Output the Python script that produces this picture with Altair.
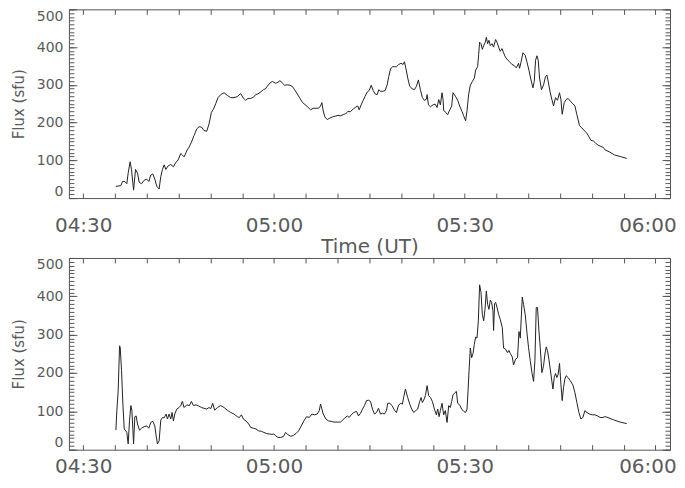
import altair as alt
import pandas as pd

# ---- data (minutes after 04:30 UT, flux in sfu) ----
top_minutes = [5.14, 5.92, 6.18, 6.55, 6.86, 7.07, 7.38, 7.6, 7.92, 8.23, 8.54, 8.8, 9.17, 9.58, 10.0, 10.32,
               10.63, 10.95, 11.26, 11.58, 11.94, 12.2, 12.47, 12.73, 12.99, 13.35, 13.77, 14.19, 14.56, 14.93,
               15.34, 15.6, 15.87, 16.29, 16.65, 17.02, 17.44, 17.86, 18.22, 18.6, 19.0, 19.43, 19.79, 20.16,
               20.48, 20.84, 21.2, 21.62, 22.15, 22.67, 23.2, 23.72, 24.25, 24.77, 25.13, 25.55, 25.92, 26.34,
               26.76, 27.12, 27.49, 27.91, 28.33, 28.69, 28.96, 29.38, 29.74, 30.27, 30.63, 30.94, 31.32, 31.68,
               32.1, 32.51, 32.89, 33.25, 33.67, 34.09, 34.51, 34.93, 35.34, 35.76, 36.18, 36.6, 37.02, 37.33,
               37.54, 37.75, 38.01, 38.38, 38.8, 39.22, 39.64, 40.05, 40.47, 40.9, 41.31, 41.62, 42.04, 42.47,
               42.88, 43.19, 43.41, 43.72, 44.04, 44.35, 44.67, 44.98, 45.3, 45.61, 45.92, 46.24, 46.49, 46.76,
               47.18, 47.49, 47.81, 48.06, 48.33, 48.64, 48.96, 49.27, 49.63, 50.0, 50.32, 50.53, 50.74, 51.05,
               51.36, 51.73, 52.1, 52.41, 52.72, 53.04, 53.35, 53.67, 53.98, 54.09, 54.3, 54.61, 55.03, 55.35,
               55.66, 55.92, 56.18, 56.44, 56.6, 56.7, 57.01, 57.33, 57.64, 57.96, 58.17, 58.54, 58.9, 59.21,
               59.59, 59.84, 60.15, 60.37, 60.62, 60.89, 61.21, 61.52, 61.73, 62.04, 62.2, 62.35, 62.57, 62.78,
               62.99, 63.25, 63.41, 63.61, 63.82, 64.03, 64.3, 64.55, 64.87, 65.08, 65.34, 65.6, 65.87, 66.12,
               66.39, 66.65, 67.06, 67.44, 67.8, 68.12, 68.48, 68.64, 68.85, 69.17, 69.53, 69.79, 70.11, 70.43,
               70.74, 70.95, 71.15, 71.37, 71.57, 71.78, 72.09, 72.41, 72.72, 72.94, 73.14, 73.46, 73.72, 73.98,
               74.29, 74.6, 74.92, 75.14, 75.34, 75.66, 75.97, 76.28, 76.6, 77.02, 77.34, 77.65, 78.06, 78.43,
               78.8, 79.22, 79.53, 79.85, 80.26, 80.57, 81.0, 81.42, 81.83, 82.05, 82.8, 83.6, 84.5, 85.5]
top_flux = [31, 33, 44, 44, 38, 66, 96, 75, 21, 76, 66, 42, 38, 47, 50, 44,
            61, 64, 50, 31, 24, 57, 76, 88, 76, 85, 89, 83, 94, 101,
            118, 114, 109, 125, 135, 148, 166, 183, 189, 188, 179, 177, 196, 227,
            235, 250, 266, 274, 279, 272, 266, 266, 269, 277, 266, 259, 264, 264,
            267, 274, 276, 281, 287, 290, 296, 305, 309, 304, 307, 311, 305, 299,
            300, 299, 296, 287, 276, 264, 253, 247, 241, 234, 238, 238, 238, 244,
            253, 231, 215, 208, 212, 215, 217, 219, 218, 221, 224, 229, 229, 236,
            241, 244, 234, 247, 259, 270, 281, 285, 299, 285, 276, 274, 287, 283,
            283, 285, 300, 322, 342, 348, 348, 348, 354, 357, 354, 361, 345, 318,
            296, 290, 287, 296, 313, 287, 266, 259, 262, 274, 247, 242, 247, 249,
            240, 261, 247, 279, 261, 233, 227, 221, 233, 244, 279, 270, 259, 244,
            229, 218, 205, 231, 274, 299, 309, 318, 339, 348, 380, 413, 409, 394,
            404, 413, 426, 409, 418, 404, 409, 400, 420, 413, 400, 389, 396, 385,
            374, 368, 361, 354, 351, 345, 357, 344, 359, 385, 378, 361, 339, 313,
            292, 309, 365, 377, 365, 318, 287, 300, 322, 326, 309, 279, 261, 244,
            266, 259, 279, 261, 222, 253, 261, 264, 257, 250, 244, 221, 192, 186,
            179, 172, 163, 153, 151, 146, 140, 137, 134, 128, 122, 114, 110, 105]

bottom_minutes = [5.14, 5.29, 5.5, 5.72, 5.82, 6.03, 6.24, 6.45, 6.71, 6.86, 7.07, 7.28, 7.49, 7.65, 7.81, 7.92,
                  8.12, 8.33, 8.54, 8.86, 9.17, 9.58, 10.0, 10.32, 10.63, 10.95, 11.26, 11.47, 11.68, 11.94,
                  12.2, 12.47, 12.73, 13.04, 13.25, 13.51, 13.77, 13.98, 14.19, 14.4, 14.72, 15.08, 15.34, 15.6,
                  15.87, 16.29, 16.71, 17.02, 17.34, 17.75, 18.17, 18.6, 19.0, 19.43, 19.79, 20.06, 20.37, 20.68,
                  21.11, 21.63, 22.15, 22.67, 23.2, 23.72, 24.25, 24.57, 24.88, 25.19, 25.6, 26.03, 26.34, 26.76,
                  27.17, 27.6, 28.02, 28.43, 28.85, 29.28, 29.68, 30.0, 30.27, 30.63, 31.05, 31.47, 31.84, 32.2,
                  32.62, 33.04, 33.46, 33.88, 34.3, 34.71, 35.13, 35.56, 35.97, 36.39, 36.81, 37.13, 37.33, 37.54,
                  37.75, 38.17, 38.59, 39.01, 39.42, 39.95, 40.47, 40.79, 41.1, 41.53, 41.84, 42.15, 42.56, 42.99,
                  43.3, 43.62, 43.93, 44.24, 44.56, 44.87, 45.19, 45.5, 45.81, 46.13, 46.44, 46.76, 47.07, 47.38,
                  47.7, 47.9, 48.22, 48.59, 48.96, 49.27, 49.58, 49.9, 50.21, 50.42, 50.68, 51.04, 51.36, 51.67,
                  51.99, 52.3, 52.62, 52.93, 53.15, 53.35, 53.56, 53.82, 54.09, 54.34, 54.61, 54.92, 55.24, 55.55,
                  55.76, 55.97, 56.18, 56.44, 56.7, 56.96, 57.23, 57.49, 57.75, 57.96, 58.17, 58.49, 58.7, 58.9,
                  59.21, 59.53, 59.84, 60.15, 60.37, 60.53, 60.69, 60.89, 61.1, 61.32, 61.52, 61.73, 61.94, 62.15,
                  62.35, 62.57, 62.78, 62.99, 63.2, 63.41, 63.61, 63.82, 64.03, 64.24, 64.45, 64.55, 64.71, 64.87,
                  65.08, 65.34, 65.6, 65.92, 66.12, 66.44, 66.75, 66.97, 67.18, 67.49, 67.69, 68.01, 68.32, 68.54,
                  68.75, 69.06, 69.26, 69.53, 69.8, 70.05, 70.32, 70.58, 70.84, 71.05, 71.26, 71.46, 71.68, 71.89,
                  72.15, 72.41, 72.62, 72.83, 73.03, 73.25, 73.57, 73.88, 74.09, 74.29, 74.51, 74.71, 74.92, 75.14,
                  75.34, 75.55, 75.76, 75.97, 76.28, 76.6, 77.02, 77.34, 77.65, 77.97, 78.28, 78.6, 78.91, 79.22,
                  79.63, 80.05, 80.48, 80.89, 81.31, 81.73, 82.05, 82.35, 83.4, 84.45, 85.5]
bottom_flux = [51, 102, 154, 271, 267, 206, 119, 54, 49, 45, 15, 75, 115, 103, 54, 15,
               86, 88, 67, 51, 56, 60, 62, 56, 71, 74, 62, 36, 15, 23,
               77, 84, 83, 93, 80, 93, 80, 97, 75, 93, 106, 110, 115, 126,
               110, 117, 115, 126, 115, 117, 114, 110, 108, 106, 110, 107, 121, 103,
               110, 115, 110, 103, 97, 93, 86, 84, 91, 80, 75, 67, 58, 56,
               54, 49, 48, 45, 42, 41, 40, 41, 36, 32, 32, 34, 45, 39,
               35, 37, 42, 49, 62, 75, 86, 84, 93, 91, 93, 102, 119, 106,
               93, 80, 75, 74, 72, 72, 72, 77, 82, 88, 84, 91, 97, 100,
               88, 95, 106, 115, 128, 129, 126, 106, 93, 97, 108, 93, 95, 93,
               102, 121, 121, 115, 103, 97, 115, 121, 119, 138, 158, 136, 119, 106,
               97, 102, 106, 126, 136, 123, 129, 141, 167, 141, 136, 126, 106, 91,
               106, 86, 102, 121, 91, 102, 71, 115, 110, 126, 143, 149, 152, 121,
               117, 106, 100, 97, 106, 154, 206, 265, 240, 251, 275, 294, 291, 336,
               430, 410, 353, 336, 366, 414, 379, 366, 390, 384, 362, 311, 381, 384,
               372, 353, 340, 318, 265, 262, 253, 259, 251, 242, 221, 236, 240, 308,
               291, 398, 379, 352, 305, 266, 232, 201, 178, 232, 371, 371, 310, 266,
               201, 219, 249, 268, 258, 236, 197, 158, 188, 199, 188, 197, 225, 171,
               128, 162, 184, 193, 188, 180, 169, 149, 123, 97, 80, 84, 102, 97,
               93, 91, 91, 88, 84, 84, 86, 85, 78, 72, 68]

time_tick_minutes = [0, 30, 60, 90]
time_tick_labels = ["04:30", "05:00", "05:30", "06:00"]
minor_time_ticks = list(range(0, 95, 5))
flux_ticks = [0, 100, 200, 300, 400, 500]
minor_flux_ticks = list(range(0, 510, 10))
x_domain = [-2.25, 92.3]
y_domain = [0, 500]

AX = "#555555"
TXT = "#5a5a5a"
LINE = "#222222"
FONT = "DejaVu Sans"

label_expr = " : ".join(
    f"datum.value == {m} ? '{l}'" for m, l in zip(time_tick_minutes, time_tick_labels)
) + " : ''"

# keep the last time label inside the page
last_label_offset = {"condition": {"test": f"datum.value == {time_tick_minutes[-1]}", "value": -8},
                     "value": 0}


def tick_axis(orient, values, size):
    return alt.Axis(orient=orient, values=values, tickSize=size, offset=-size, labels=False,
                    domain=False, grid=False, title=None, tickColor=AX, tickWidth=1)


def panel(minutes, flux, height, x_title, label_pad):
    df = pd.DataFrame({"minutes": minutes, "flux": flux})
    xs = alt.Scale(domain=x_domain, nice=False, zero=False)
    ys = alt.Scale(domain=y_domain, nice=False, zero=False)
    base = alt.Chart(df)

    x_main_axis = dict(orient="bottom", values=time_tick_minutes, labelExpr=label_expr, ticks=False,
                       tickSize=0, domain=False, grid=False, labelPadding=label_pad, labelFontSize=20,
                       labelFont=FONT, labelColor=TXT, labelFlush=False, labelOverlap=False,
                       labelOffset=last_label_offset)
    if x_title:
        x_main_axis.update(title=x_title, titleFontSize=20, titleFont=FONT, titleColor=TXT,
                           titleFontWeight="normal", titleBaseline="alphabetic", titleY=55)
    else:
        x_main_axis.update(title=None)

    main = base.mark_line(color=LINE, strokeWidth=1).encode(
        x=alt.X("minutes:Q", scale=xs, axis=alt.Axis(**x_main_axis)),
        y=alt.Y("flux:Q", scale=ys, axis=alt.Axis(
            orient="left", values=flux_ticks, ticks=False, tickSize=0, domain=False, grid=False,
            labelFlush=True, labelPadding=6, labelFontSize=14, labelFont=FONT, labelColor=TXT,
            title="Flux (sfu)", titleFontSize=15, titleFont=FONT, titleColor=TXT,
            titleFontWeight="normal", titlePadding=10)),
    )
    hidden = dict(opacity=0, strokeWidth=1)
    l2 = base.mark_line(**hidden).encode(
        x=alt.X("minutes:Q", scale=xs, axis=tick_axis("bottom", minor_time_ticks, 5)),
        y=alt.Y("flux:Q", scale=ys, axis=tick_axis("left", flux_ticks, 8)),
    )
    l3 = base.mark_line(**hidden).encode(
        x=alt.X("minutes:Q", scale=xs, axis=tick_axis("top", minor_time_ticks, 5)),
        y=alt.Y("flux:Q", scale=ys, axis=tick_axis("left", minor_flux_ticks, 5)),
    )
    l4 = base.mark_line(**hidden).encode(
        x=alt.X("minutes:Q", scale=xs, axis=None),
        y=alt.Y("flux:Q", scale=ys, axis=tick_axis("right", flux_ticks, 8)),
    )
    l5 = base.mark_line(**hidden).encode(
        x=alt.X("minutes:Q", scale=xs, axis=None),
        y=alt.Y("flux:Q", scale=ys, axis=tick_axis("right", minor_flux_ticks, 5)),
    )
    return alt.layer(main, l2, l3, l4, l5).resolve_axis(x="independent", y="independent").properties(
        width=602, height=height)


top = panel(top_minutes, top_flux, 189, "Time (UT)", 17)
bottom = panel(bottom_minutes, bottom_flux, 192, None, 6.5)

chart = alt.vconcat(top, bottom, spacing=60, bounds="flush").properties(
    padding={"left": 2, "top": 0, "right": 0, "bottom": 0},
    background="white",
).configure_view(stroke=AX, strokeWidth=1).configure_axis(grid=False)

chart.save("out.html", embed_options={"renderer": "svg", "actions": False})
